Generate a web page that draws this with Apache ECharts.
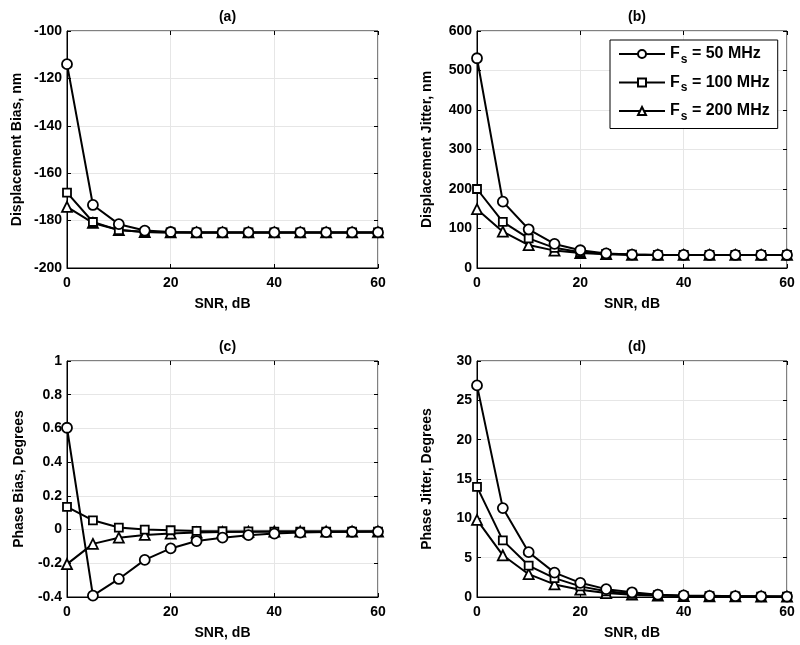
<!DOCTYPE html>
<html><head><meta charset="utf-8">
<script src="https://cdn.jsdelivr.net/npm/echarts@6/dist/echarts.min.js"></script>
<style>html,body{margin:0;padding:0;background:#fff}#c{width:800px;height:645px}</style>
</head><body><div id="c"></div>
<script>
const snr = [0,5,10,15,20,25,30,35,40,45,50,55,60];
const seriesNames = ['Fs = 50 MHz','Fs = 100 MHz','Fs = 200 MHz'];
// (a) Displacement Bias, nm
const biasDisp50  = [-114,-173.4,-181.5,-184.2,-184.8,-185,-185,-185,-185,-185,-185,-185,-185];
const biasDisp100 = [-168.2,-180.6,-184,-184.8,-185,-185,-185,-185,-185,-185,-185,-185,-185];
const biasDisp200 = [-174.2,-181,-184,-184.8,-185,-185,-185,-185,-185,-185,-185,-185,-185];
// (b) Displacement Jitter, nm
const jitDisp50  = [531,168,98,61,45,37,34,33,33,33,33,33,33];
const jitDisp100 = [200,117,75,51,40,36,34,33,33,33,33,33,33];
const jitDisp200 = [149,92,58,44,38,35,33,33,33,33,33,33,33];
// (c) Phase Bias, Degrees
const biasPh50  = [0.604,-0.392,-0.293,-0.18,-0.112,-0.068,-0.048,-0.033,-0.024,-0.018,-0.015,-0.013,-0.012];
const biasPh100 = [0.135,0.055,0.012,0.0,-0.004,-0.008,-0.01,-0.011,-0.012,-0.012,-0.012,-0.012,-0.012];
const biasPh200 = [-0.205,-0.085,-0.048,-0.032,-0.024,-0.018,-0.015,-0.013,-0.012,-0.012,-0.012,-0.012,-0.012];
// (d) Phase Jitter, Degrees
const jitPh50  = [26.9,11.3,5.7,3.1,1.8,1.0,0.6,0.3,0.2,0.15,0.1,0.08,0.06];
const jitPh100 = [14.0,7.2,4.0,2.4,1.35,0.72,0.4,0.22,0.14,0.1,0.08,0.06,0.05];
const jitPh200 = [9.8,5.3,2.9,1.6,0.93,0.5,0.3,0.18,0.12,0.09,0.07,0.05,0.04];

const panelTitles = ['(a)','(b)','(c)','(d)'];
const yNames = ['Displacement Bias, nm','Displacement Jitter, nm','Phase Bias, Degrees','Phase Jitter, Degrees'];
const yRanges = [[-200,-100,20],[0,600,100],[-0.4,1,0.2],[0,30,5]];
const xName = 'SNR, dB';
const panelData = [
  [biasDisp50,biasDisp100,biasDisp200],
  [jitDisp50,jitDisp100,jitDisp200],
  [biasPh50,biasPh100,biasPh200],
  [jitPh50,jitPh100,jitPh200]
];

const FONT = 'Liberation Sans, Arial, sans-serif';
const grids = [
  {left:67, top:31, width:311, height:237},
  {left:477, top:31, width:310, height:237},
  {left:67, top:361, width:311, height:236},
  {left:477, top:361, width:310, height:236}
];
const symbols = ['circle','rect','triangle'];
const symSizes = [10,8,10];
const tickStyle = {inside:true,length:4,lineStyle:{color:'#000'}};

const option = {
  backgroundColor:'#fff',
  animation:false,
  textStyle:{fontFamily:FONT},
  title: panelTitles.map((t,i)=>({
    text:t, left: grids[i].left + grids[i].width/2, top: grids[i].top - 26, textAlign:'center',
    textStyle:{fontFamily:FONT,fontWeight:'bold',fontSize:14,color:'#000'}
  })),
  grid: grids.map(g=>Object.assign({show:true,borderColor:'#000',borderWidth:1,backgroundColor:'#fff'},g)),
  legend:{
    data:seriesNames, left:610, top:40, orient:'vertical',
    backgroundColor:'#fff', borderColor:'#000', borderWidth:1,
    padding:[6,8,6,8], itemGap:9, itemWidth:46, itemHeight:10,
    formatter: n => 'F{s|s}' + n.slice(2),
    textStyle:{fontFamily:FONT,fontWeight:'bold',fontSize:16,color:'#000',
      rich:{s:{fontFamily:FONT,fontWeight:'bold',fontSize:12,color:'#000',padding:[11,0,0,1]}}}
  },
  xAxis: [],
  yAxis: [],
  series: []
};

grids.forEach((g,i)=>{
  option.xAxis.push({
    gridIndex:i, type:'value', position:'bottom', min:0, max:60, interval:20,
    name:xName, nameLocation:'middle', nameGap:29,
    nameTextStyle:{fontFamily:FONT,fontWeight:'bold',fontSize:14,color:'#000'},
    axisLine:{onZero:false,lineStyle:{color:'#000',width:1}},
    axisTick:tickStyle,
    axisLabel:{fontFamily:FONT,fontWeight:'bold',fontSize:14,color:'#000',margin:8},
    splitLine:{show:true,lineStyle:{color:'#e6e6e6',width:1}}
  });
  // top tick marks (box on)
  option.xAxis.push({
    gridIndex:i, type:'value', position:'top', min:0, max:60, interval:20,
    axisLine:{show:false,onZero:false}, axisTick:tickStyle, axisLabel:{show:false}, splitLine:{show:false}
  });
});
yRanges.forEach((r,i)=>{
  option.yAxis.push({
    gridIndex:i, type:'value', position:'left', min:r[0], max:r[1], interval:r[2],
    name:yNames[i], nameLocation:'middle', nameGap:i===2?41:43,
    nameTextStyle:{fontFamily:FONT,fontWeight:'bold',fontSize:14,color:'#000'},
    axisLine:{onZero:false,lineStyle:{color:'#000',width:1}},
    axisTick:tickStyle,
    axisLabel:{fontFamily:FONT,fontWeight:'bold',fontSize:14,color:'#000',margin:5,
      formatter: v => String(Math.round(v*10)/10)},
    splitLine:{show:true,lineStyle:{color:'#e6e6e6',width:1}}
  });
  option.yAxis.push({
    gridIndex:i, type:'value', position:'right', min:r[0], max:r[1], interval:r[2],
    axisLine:{show:false,onZero:false}, axisTick:tickStyle, axisLabel:{show:false}, splitLine:{show:false}
  });
});

panelData.forEach((arrs,p)=>{
  arrs.forEach((vals,k)=>{
    option.series.push({
      name:seriesNames[k], type:'line', xAxisIndex:2*p, yAxisIndex:2*p,
      data: snr.map((x,j)=>[x,vals[j]]),
      symbol:symbols[k], symbolSize:symSizes[k], showAllSymbol:true,
      lineStyle:{color:'#000',width:2},
      itemStyle:{color:'#fff',borderColor:'#000',borderWidth:1.8},
      emphasis:{disabled:true}, z: 3-k
    });
  });
});

const chart = echarts.init(document.getElementById('c'),null,{renderer:'canvas'});
chart.setOption(option);
</script></body></html>
